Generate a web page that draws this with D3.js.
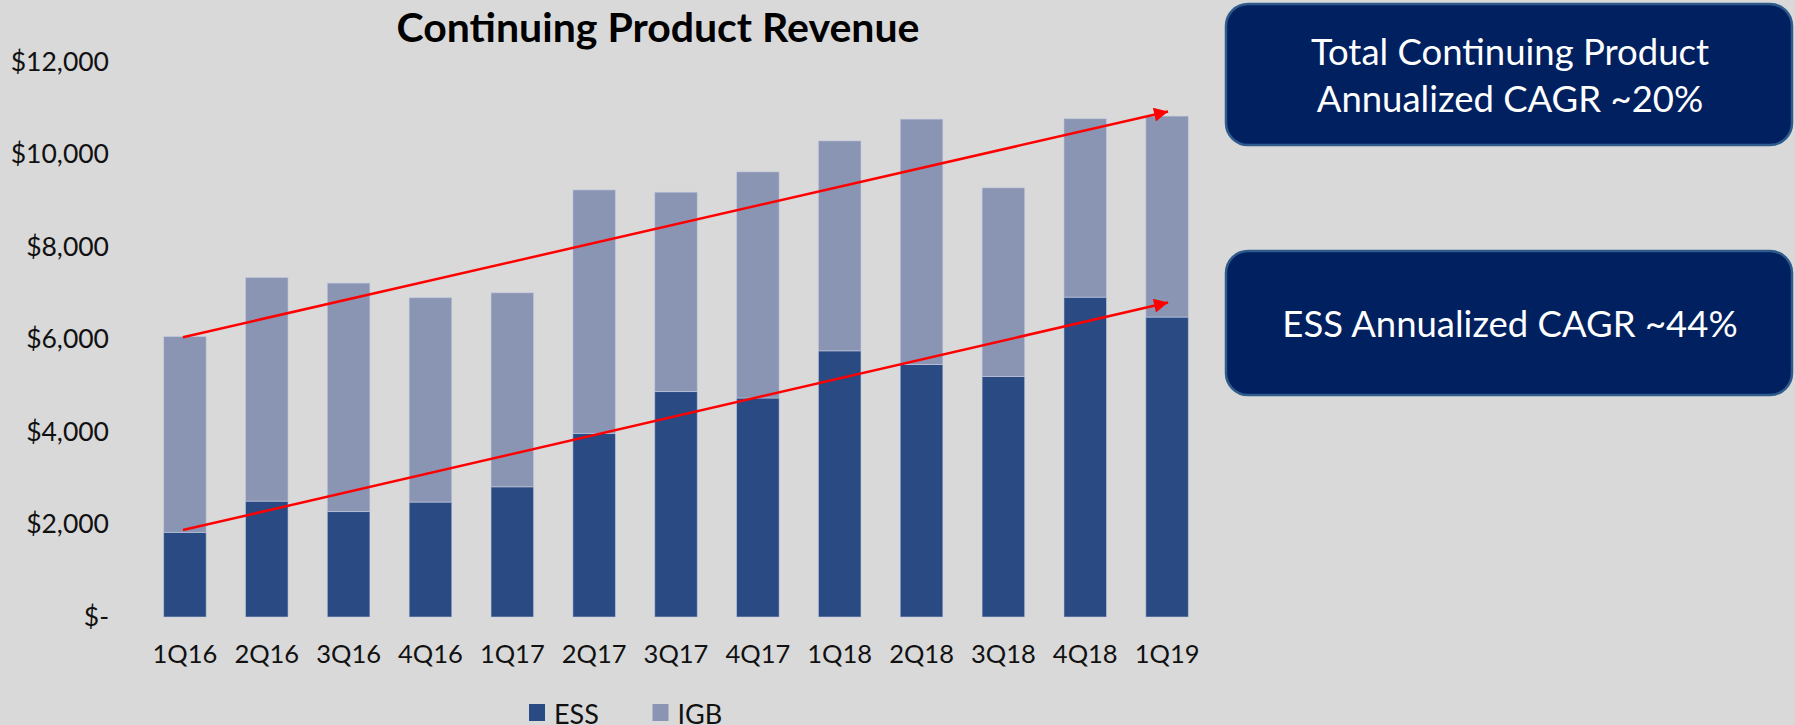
<!DOCTYPE html>
<html>
<head>
<meta charset="utf-8">
<script src="https://cdn.jsdelivr.net/npm/d3@7"></script>
<style>
  html, body { margin: 0; padding: 0; background: #d9d9d9; }
  svg { display: block; font-family: Lato, "Open Sans", sans-serif; }
</style>
</head>
<body>
<svg class="svg_parent"></svg>
<script>
// quarters and revenue ($K)
const quarters = ['1Q16','2Q16','3Q16','4Q16','1Q17','2Q17','3Q17','4Q17','1Q18','2Q18','3Q18','4Q18','1Q19'];
const essValues = [1830, 2505, 2280, 2485, 2815, 3970, 4875, 4735, 5755, 5460, 5200, 6915, 6485];
const totalValues = [6065, 7340, 7220, 6905, 7010, 9235, 9185, 9625, 10295, 10765, 9280, 10775, 10830];
const igbValues = totalValues.map((t, i) => t - essValues[i]);
const yTicks = [0, 2000, 4000, 6000, 8000, 10000, 12000];
const seriesKeys = ['ESS', 'IGB'];

// trend arrows (quarter, value) start -> end
const totalTrend = [['1Q16', 6050], ['1Q19', 10930]];
const essTrend = [['1Q16', 1880], ['1Q19', 6800]];

const calloutTexts = [
  ['Total Continuing Product', 'Annualized CAGR ~20%'],
  ['ESS Annualized CAGR ~44%']
];

const W = 1795, H = 725;
const margin = { top: 62, right: 587, bottom: 108, left: 144 };

const data = quarters.map((q, i) => ({ q: q, ESS: essValues[i], IGB: igbValues[i] }));

const svg = d3.select('.svg_parent').attr('width', W).attr('height', H);
svg.append('rect').attr('width', W).attr('height', H).attr('fill', '#d9d9d9');

const x_scale = d3.scaleBand().domain(quarters)
  .range([margin.left, W - margin.right])
  .paddingInner(0.48).paddingOuter(0.24);
const y_scale = d3.scaleLinear().domain([0, 12000]).range([H - margin.bottom, margin.top]);
const color_scale = d3.scaleOrdinal().domain(seriesKeys).range(['#2a4a84', '#8a95b4']);

// title
svg.append('text')
  .attr('x', 658).attr('y', 26)
  .attr('text-anchor', 'middle').attr('dominant-baseline', 'central')
  .style('font-weight', 'bold').style('font-size', '41px').style('fill', '#000')
  .text('Continuing Product Revenue');

// stacked bars
const stacked = d3.stack().keys(seriesKeys)(data);
svg.append('g').selectAll('g').data(stacked).join('g')
  .attr('fill', d => color_scale(d.key))
  .selectAll('rect').data(d => d).join('rect')
  .attr('x', d => x_scale(d.data.q))
  .attr('y', d => y_scale(d[1]))
  .attr('width', x_scale.bandwidth())
  .attr('height', d => y_scale(d[0]) - y_scale(d[1]))
  .attr('stroke', 'rgba(200,208,228,0.55)')
  .attr('stroke-width', 1);

// y axis labels (no line)
const fmt = v => v === 0 ? '$-' : '$' + d3.format(',')(v);
const yAxis = svg.append('g').attr('transform', `translate(${margin.left - 35},0)`)
  .call(d3.axisLeft(y_scale).tickValues(yTicks).tickFormat(fmt).tickSize(0).tickPadding(0));
yAxis.select('.domain').remove();
yAxis.selectAll('text').style('font-size', '26.5px').style('fill', '#111').style('font-family', 'Lato, sans-serif');

// x axis labels
const xAxis = svg.append('g').attr('transform', `translate(0,${H - margin.bottom})`)
  .call(d3.axisBottom(x_scale).tickSize(0).tickPadding(28));
xAxis.select('.domain').remove();
xAxis.selectAll('text').style('font-size', '25.5px').style('fill', '#111').style('font-family', 'Lato, sans-serif');

// arrows
svg.append('defs').append('marker')
  .attr('id', 'arrowhead')
  .attr('viewBox', '0 0 10 10')
  .attr('refX', 10).attr('refY', 5)
  .attr('markerUnits', 'userSpaceOnUse')
  .attr('markerWidth', 17).attr('markerHeight', 14)
  .attr('orient', 'auto')
  .append('path').attr('d', 'M0,0 L10,5 L0,10 Z').attr('fill', '#ff0000');

const cx = q => x_scale(q) + x_scale.bandwidth() / 2;
[totalTrend, essTrend].forEach(t => {
  svg.append('line')
    .attr('x1', cx(t[0][0]) - 2).attr('y1', y_scale(t[0][1]))
    .attr('x2', cx(t[1][0]) + 1).attr('y2', y_scale(t[1][1]))
    .attr('stroke', '#ff0000').attr('stroke-width', 2.5)
    .attr('marker-end', 'url(#arrowhead)');
});

// legend
const legend = svg.append('g').selectAll('g').data(seriesKeys).join('g')
  .attr('transform', (d, i) => `translate(${529 + i * 123.5}, 704)`);
legend.append('rect').attr('width', 16).attr('height', 17).attr('fill', d => color_scale(d));
legend.append('text').attr('x', 25).attr('y', 9)
  .attr('dominant-baseline', 'central')
  .style('font-size', '27px').style('fill', '#111')
  .text(d => d);

// callout boxes
const boxes = [{ y: 4, h: 141 }, { y: 251, h: 144 }];
boxes.forEach((b, i) => {
  const g = svg.append('g');
  g.append('rect')
    .attr('x', 1226).attr('y', b.y).attr('width', 566).attr('height', b.h)
    .attr('rx', 22).attr('ry', 22)
    .attr('fill', '#002060').attr('stroke', '#2f5b8c').attr('stroke-width', 2.5);
  const lines = calloutTexts[i];
  const lh = 47;
  lines.forEach((s, j) => {
    g.append('text')
      .attr('x', 1510)
      .attr('y', b.y + b.h / 2 + (j - (lines.length - 1) / 2) * lh)
      .attr('text-anchor', 'middle').attr('dominant-baseline', 'central')
      .style('font-size', '36.5px').style('fill', '#fff')
      .text(s);
  });
});
</script>
</body>
</html>
